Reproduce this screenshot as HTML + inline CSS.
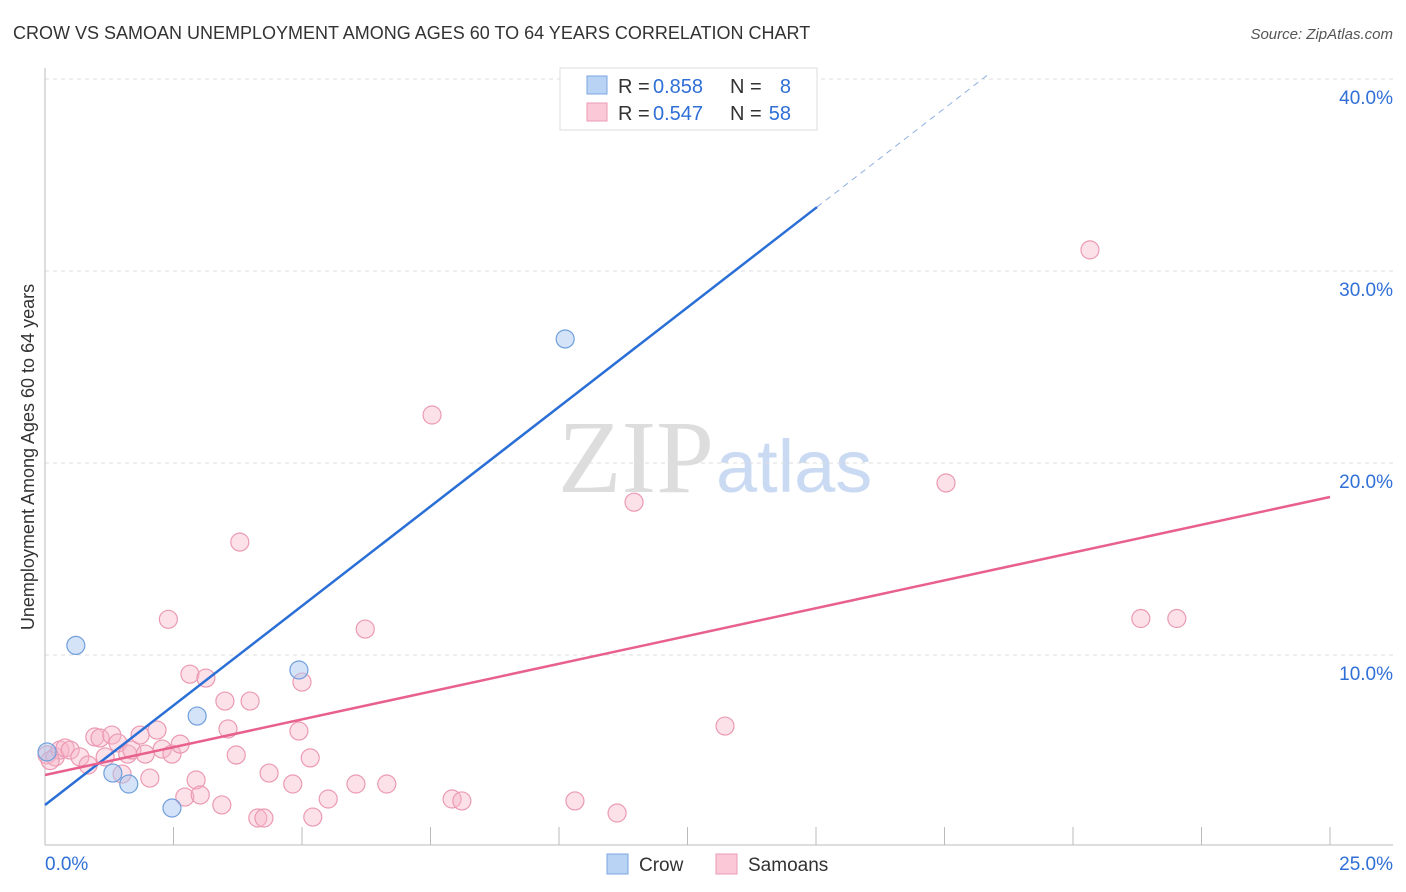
<!DOCTYPE html>
<html><head><meta charset="utf-8"><style>
body{margin:0;background:#fff;font-family:"Liberation Sans",sans-serif;}
svg{display:block}
</style></head><body>
<svg id="c" width="1406" height="892">
<text x="13" y="39" font-size="18" fill="#333">CROW VS SAMOAN UNEMPLOYMENT AMONG AGES 60 TO 64 YEARS CORRELATION CHART</text>
<text x="1393" y="39" font-size="15" fill="#555" font-style="italic" text-anchor="end">Source: ZipAtlas.com</text>
<text transform="translate(34,457) rotate(-90)" font-size="18" fill="#333" text-anchor="middle">Unemployment Among Ages 60 to 64 years</text>
<text x="714" y="492" font-size="104" fill="#ddd" text-anchor="end" font-family="Liberation Serif,serif">ZIP</text>
<text x="716" y="492" font-size="74" fill="#c9daf2">atlas</text>
<g id="grid"></g><g id="pts"></g><g id="lines"></g>
<g>
<rect x="560" y="68" width="257" height="62" fill="#fff" stroke="#ddd"/>
<rect x="587" y="76" width="20" height="18" fill="#b9d3f5" stroke="#7aa6e0"/>
<text x="618" y="93" font-size="20" fill="#333">R =</text>
<text x="653" y="93" font-size="20" fill="#2f6fd6">0.858</text>
<text x="730" y="93" font-size="20" fill="#333">N =</text>
<text x="791" y="93" font-size="20" fill="#2f6fd6" text-anchor="end">8</text>
<rect x="587" y="103" width="20" height="18" fill="#fac8d7" stroke="#eb9ab3"/>
<text x="618" y="120" font-size="20" fill="#333">R =</text>
<text x="653" y="120" font-size="20" fill="#2f6fd6">0.547</text>
<text x="730" y="120" font-size="20" fill="#333">N =</text>
<text x="791" y="120" font-size="20" fill="#2f6fd6" text-anchor="end">58</text>
</g>
<g>
<rect x="607" y="854" width="21" height="20" fill="#b9d3f5" stroke="#7aa6e0"/>
<text x="639" y="871" font-size="19" fill="#333">Crow</text>
<rect x="716" y="854" width="21" height="20" fill="#fac8d7" stroke="#eb9ab3"/>
<text x="748" y="871" font-size="19" fill="#333">Samoans</text>
</g>
</svg>
<script>
const yTicks=[10,20,30,40];
const crowX=[0.04,0.6,1.32,1.63,2.47,2.96,4.94,10.12];
const crowY=[4.95,10.5,3.85,3.28,2.03,6.82,9.22,26.46];
const samX=[0.04,0.2,0.29,0.39,0.49,0.68,0.84,0.97,1.07,1.17,1.3,1.42,1.5,1.61,1.69,1.85,1.95,2.04,2.18,2.28,2.4,2.47,2.63,2.72,2.82,2.94,3.02,3.13,3.44,3.5,3.56,3.72,3.79,3.99,4.14,4.26,4.36,4.82,4.94,5.0,5.16,5.21,5.51,6.05,6.23,6.65,7.53,7.92,8.11,10.31,11.13,11.46,13.23,17.53,20.33,21.32,22.02,0.1];
const samY=[4.8,4.69,5.05,5.16,5.05,4.69,4.27,5.73,5.68,4.69,5.83,5.42,3.8,4.84,5.05,5.83,4.84,3.59,6.09,5.1,11.86,4.84,5.36,2.6,9.0,3.49,2.71,8.8,2.19,7.6,6.15,4.79,15.88,7.6,1.51,1.51,3.85,3.28,6.04,8.59,4.64,1.56,2.5,3.28,11.35,3.28,22.5,2.5,2.4,2.4,1.77,17.96,6.3,18.96,31.1,11.9,11.9,4.5];
const crowFit=[2.19,33.33,15.02];
const samFit=[3.75,18.23];
const X=v=>45+v*51.4, Y=v=>847-v*19.2;
const NS="http://www.w3.org/2000/svg";
function mk(p,t,a){const e=document.createElementNS(NS,t);for(const k in a)e.setAttribute(k,a[k]);p.appendChild(e);return e;}
const g=document.getElementById('grid');
yTicks.forEach(t=>{
 const l=mk(g,'line',{x1:45,x2:1393,y1:Y(t),y2:Y(t),stroke:'#ddd','stroke-dasharray':'4,4'});
 
 
 const tx=mk(g,'text',{x:1393,y:Y(t)+25,'font-size':19,fill:'#2f6fd6','text-anchor':'end'});tx.textContent=t.toFixed(1)+'%';
 
 
});
mk(g,'line',{x1:45,x2:1393,y1:845,y2:845,stroke:'#bbb'});
mk(g,'line',{x1:45,x2:45,y1:68,y2:845,stroke:'#bbb'});
for(let i=1;i<=10;i++){mk(g,'line',{x1:X(i*2.5),x2:X(i*2.5),y1:827,y2:845,stroke:'#bbb'});}
let t0=mk(g,'text',{x:45,y:870,'font-size':19,fill:'#2f6fd6'});t0.textContent='0.0%';


let t1=mk(g,'text',{x:1393,y:870,'font-size':19,fill:'#2f6fd6','text-anchor':'end'});t1.textContent='25.0%';


const p=document.getElementById('pts');
samX.forEach((x,i)=>{const c=mk(p,'circle',{cx:X(x),cy:Y(samY[i]),r:9,fill:'rgba(248,180,200,0.4)',stroke:'#eb9ab3','stroke-width':1.2});
 
 });
crowX.forEach((x,i)=>{const c=mk(p,'circle',{cx:X(x),cy:Y(crowY[i]),r:9,fill:'rgba(170,200,240,0.5)',stroke:'#6f9fdd','stroke-width':1.2});
 
 });
const L=document.getElementById('lines');
const slope=(crowFit[1]-crowFit[0])/crowFit[2];
let a=mk(L,'line',{x1:X(0),y1:Y(crowFit[0]),x2:X(crowFit[2]),y2:Y(crowFit[1]),stroke:'#2a6fd6','stroke-width':2.5});


const xe=(40.2-crowFit[0])/slope;
let b=mk(L,'line',{x1:X(crowFit[2]),y1:Y(crowFit[1]),x2:X(xe),y2:Y(40.2),stroke:'#8fb0e0','stroke-width':1,'stroke-dasharray':'6,5'});


let s=mk(L,'line',{x1:X(0),y1:Y(samFit[0]),x2:X(25),y2:Y(samFit[1]),stroke:'#e8608e','stroke-width':2.5});


</script>
</body></html>
